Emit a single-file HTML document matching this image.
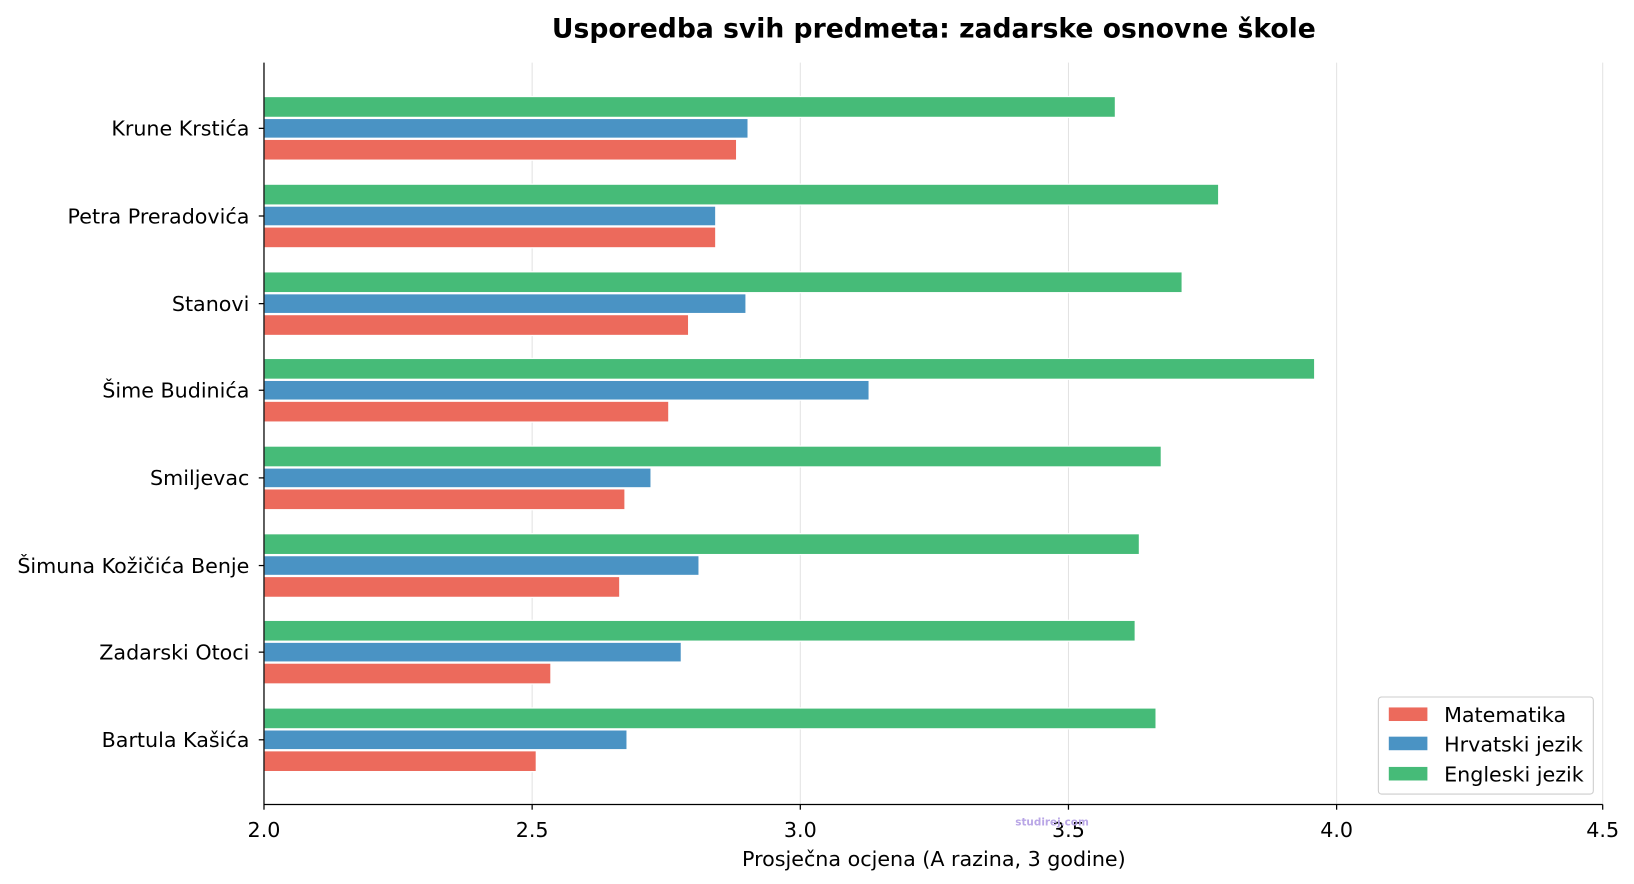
<!DOCTYPE html>
<html><head><meta charset="utf-8"><style>body{margin:0;background:#fff}svg{display:block}</style></head><body>
<svg width="1634" height="884" viewBox="0 0 1566 847.2" xmlns="http://www.w3.org/2000/svg" font-family="'DejaVu Sans',sans-serif">
<rect width="1566" height="848" fill="#fff"/>
<g stroke="#e3e3e3" stroke-width="1">
<line x1="510" y1="60" x2="510" y2="771"/><line x1="767" y1="60" x2="767" y2="771"/><line x1="1024" y1="60" x2="1024" y2="771"/><line x1="1281" y1="60" x2="1281" y2="771"/><line x1="1536" y1="60" x2="1536" y2="771"/>
</g>
<g stroke="#fff" stroke-width="1.2">
<g transform="translate(0,123)"><rect x="253" y="-30.5" width="816" height="20" fill="#46bb78"/><rect x="253" y="-9.5" width="464" height="19" fill="#4a93c4"/><rect x="253" y="10.5" width="453" height="20" fill="#ec6a5c"/></g>
<g transform="translate(0,207)"><rect x="253" y="-30.5" width="915" height="20" fill="#46bb78"/><rect x="253" y="-9.5" width="433" height="19" fill="#4a93c4"/><rect x="253" y="10.5" width="433" height="20" fill="#ec6a5c"/></g>
<g transform="translate(0,291)"><rect x="253" y="-30.5" width="880" height="20" fill="#46bb78"/><rect x="253" y="-9.5" width="462" height="19" fill="#4a93c4"/><rect x="253" y="10.5" width="407" height="20" fill="#ec6a5c"/></g>
<g transform="translate(0,374)"><rect x="253" y="-30.5" width="1007" height="20" fill="#46bb78"/><rect x="253" y="-9.5" width="580" height="19" fill="#4a93c4"/><rect x="253" y="10.5" width="388" height="20" fill="#ec6a5c"/></g>
<g transform="translate(0,458)"><rect x="253" y="-30.5" width="860" height="20" fill="#46bb78"/><rect x="253" y="-9.5" width="371" height="19" fill="#4a93c4"/><rect x="253" y="10.5" width="346" height="20" fill="#ec6a5c"/></g>
<g transform="translate(0,542)"><rect x="253" y="-30.5" width="839" height="20" fill="#46bb78"/><rect x="253" y="-9.5" width="417" height="19" fill="#4a93c4"/><rect x="253" y="10.5" width="341" height="20" fill="#ec6a5c"/></g>
<g transform="translate(0,625)"><rect x="253" y="-30.5" width="835" height="20" fill="#46bb78"/><rect x="253" y="-9.5" width="400" height="19" fill="#4a93c4"/><rect x="253" y="10.5" width="275" height="20" fill="#ec6a5c"/></g>
<g transform="translate(0,709)"><rect x="253" y="-30.5" width="855" height="20" fill="#46bb78"/><rect x="253" y="-9.5" width="348" height="19" fill="#4a93c4"/><rect x="253" y="10.5" width="261" height="20" fill="#ec6a5c"/></g>
</g>
<g stroke="#000" stroke-width="1.2"><line x1="253" y1="60" x2="253" y2="771"/><line x1="253" y1="771" x2="1536" y2="771"/>
<line x1="253" y1="771" x2="253" y2="776"/><line x1="510" y1="771" x2="510" y2="776"/><line x1="767" y1="771" x2="767" y2="776"/><line x1="1024" y1="771" x2="1024" y2="776"/><line x1="1281" y1="771" x2="1281" y2="776"/><line x1="1536" y1="771" x2="1536" y2="776"/>
<line x1="248" y1="123" x2="253" y2="123"/><line x1="248" y1="207" x2="253" y2="207"/><line x1="248" y1="291" x2="253" y2="291"/><line x1="248" y1="374" x2="253" y2="374"/><line x1="248" y1="458" x2="253" y2="458"/><line x1="248" y1="542" x2="253" y2="542"/><line x1="248" y1="625" x2="253" y2="625"/><line x1="248" y1="709" x2="253" y2="709"/>
</g>
<g font-size="19.8" fill="#000" text-anchor="middle">
<text x="253" y="802">2.0</text><text x="510" y="802">2.5</text><text x="767" y="802">3.0</text><text x="1024" y="802">3.5</text><text x="1281" y="802">4.0</text><text x="1536" y="802">4.5</text>
<text x="895" y="830">Prosječna ocjena (A razina, 3 godine)</text>
<text x="895" y="36" font-size="25.5" font-weight="bold">Usporedba svih predmeta: zadarske osnovne škole</text>
</g>
<g font-size="19.8" fill="#000" text-anchor="end">
<text x="239" y="130">Krune Krstića</text><text x="239" y="214">Petra Preradovića</text><text x="239" y="298">Stanovi</text><text x="239" y="381">Šime Budinića</text><text x="239" y="465">Smiljevac</text><text x="239" y="549">Šimuna Kožičića Benje</text><text x="239" y="632">Zadarski Otoci</text><text x="239" y="716">Bartula Kašića</text>
</g>
<rect x="1321" y="668" width="206" height="93" rx="3" fill="#fff" fill-opacity="0.85" stroke="#ccc"/>
<rect x="1331" y="678" width="37" height="13" fill="#ec6a5c"/><rect x="1331" y="706" width="37" height="13" fill="#4a93c4"/><rect x="1331" y="735" width="37" height="13" fill="#46bb78"/>
<g font-size="19.8" fill="#000"><text x="1384" y="692">Matematika</text><text x="1384" y="720">Hrvatski jezik</text><text x="1384" y="749">Engleski jezik</text></g>
<text x="973" y="791" font-size="10" fill="#b9a6e6" font-weight="bold">studirej.com</text>
</svg>
</body></html>
